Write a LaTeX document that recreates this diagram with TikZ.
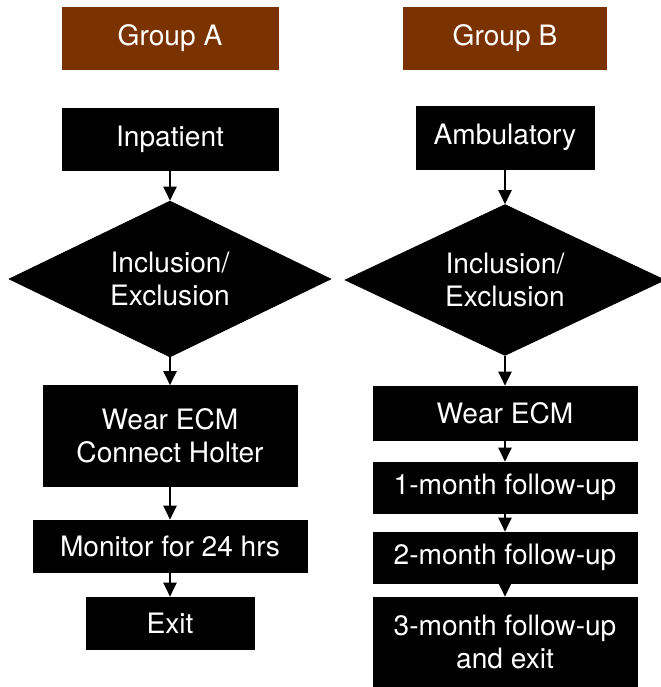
\documentclass[tikz,border=0pt]{standalone}
\usepackage{fontspec}
\setmainfont{TeX Gyre Heros}
\usepackage{tikz}
\usetikzlibrary{shapes.geometric,arrows.meta}

\definecolor{headbrown}{RGB}{122,51,0}

\begin{document}
\begin{tikzpicture}[x=0.02cm, y=-0.02cm,
                stepbox/.style={fill=black, draw=black, text=white, inner sep=0pt, align=center, font=\fontsize{16}{19}\selectfont},
                headbox/.style={stepbox, fill=headbrown, draw=headbrown},
                choice/.style={stepbox, diamond, aspect=2},
                arr/.style={-{Triangle[width=7.5pt,length=8pt]}, line width=1.1pt}]
                \useasboundingbox (0,0) rectangle (660,687);
                
                \node[headbox, minimum width=4.32cm, minimum height=1.24cm] (grpA) at (170,38) {Group A};
                \node[headbox, minimum width=4.06cm, minimum height=1.24cm] (grpB) at (505,38) {Group B};
                
                \node[stepbox, minimum width=4.32cm, minimum height=1.24cm] (inpat) at (170,139) {Inpatient};
                \node[stepbox, minimum width=3.56cm, minimum height=1.26cm] (ambul) at (505,137.5) {Ambulatory};
                
                \node[choice, minimum width=6.44cm, minimum height=3.12cm] (incA) at (170,279) {Inclusion/\\Exclusion};
                \node[choice, minimum width=6.4cm, minimum height=3.02cm] (incB) at (505,280) {Inclusion/\\Exclusion};
                
                \node[stepbox, minimum width=5.08cm, minimum height=2.02cm] (wearA) at (170,436) {Wear ECM\\Connect Holter};
                \node[stepbox, minimum width=5.48cm, minimum height=1.04cm] (monit) at (170,546) {Monitor for 24 hrs};
                \node[stepbox, minimum width=3.36cm, minimum height=1.04cm] (exitA) at (170,623) {Exit};
                
                \node[stepbox, minimum width=5.28cm, minimum height=1.08cm] (wearB) at (505,413) {Wear ECM};
                \node[stepbox, minimum width=5.28cm, minimum height=1.02cm] (fuone) at (505,487.5) {1-month follow-up};
                \node[stepbox, minimum width=5.28cm, minimum height=1.02cm] (futwo) at (505,557.5) {2-month follow-up};
                \node[stepbox, minimum width=5.28cm, minimum height=1.8cm] (futhree) at (505,642) {3-month follow-up\\and exit};
                
                \draw[arr] (inpat) -- (incA);
                \draw[arr] (incA) -- (wearA);
                \draw[arr] (wearA) -- (monit);
                \draw[arr] (monit) -- (exitA);
                
                \draw[arr] (ambul) -- (incB);
                \draw[arr] (incB) -- (wearB);
                \draw[arr] (wearB) -- (fuone);
                \draw[arr] (fuone) -- (futwo);
                \draw[arr] (futwo) -- (futhree);
            \end{tikzpicture}
\end{document}
